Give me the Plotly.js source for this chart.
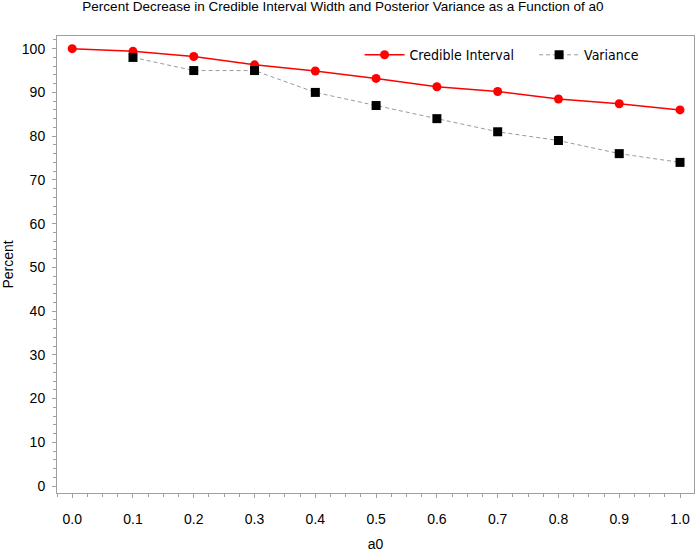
<!DOCTYPE html>
<html>
<head>
<meta charset="utf-8">
<script src="https://cdn.plot.ly/plotly-3.0.1.min.js"></script>
<style>
  html, body { margin: 0; padding: 0; background: #fff; }
  #chart { width: 696px; height: 552px; }
</style>
</head>
<body>
<div id="chart"></div>
<script>
// values
const a0 = [0.0, 0.1, 0.2, 0.3, 0.4, 0.5, 0.6, 0.7, 0.8, 0.9, 1.0];
const credible = [100, 99.4, 98.2, 96.3, 94.9, 93.2, 91.3, 90.2, 88.5, 87.4, 86.0];
const a0Var = [0.1, 0.2, 0.3, 0.4, 0.5, 0.6, 0.7, 0.8, 0.9, 1.0];
const variance = [98, 95, 95, 90, 87, 84, 81, 79, 76, 74];
const xTickVals = [0.0, 0.1, 0.2, 0.3, 0.4, 0.5, 0.6, 0.7, 0.8, 0.9, 1.0];
const xTickText = ['0.0', '0.1', '0.2', '0.3', '0.4', '0.5', '0.6', '0.7', '0.8', '0.9', '1.0'];

const axisGrey = '#a0a0a0';
const tickFont = { family: 'Liberation Sans, Arial, sans-serif', size: 14, color: '#000' };
const legendFont = { family: 'DejaVu Sans Condensed, DejaVu Sans, sans-serif', size: 14, color: '#000' };

const traces = [
    {
        x: a0, y: credible,
        name: 'Credible Interval',
        type: 'scatter', mode: 'lines+markers',
        line: { color: '#ff0000', width: 1.5 },
        marker: { symbol: 'circle', size: 9, color: '#ff0000' },
        legend: 'legend'
    },
    {
        x: a0Var, y: variance,
        name: 'Variance',
        type: 'scatter', mode: 'lines+markers',
        line: { color: '#9a9a9a', width: 1, dash: '4px,3px' },
        marker: { symbol: 'square', size: 9, color: '#000' },
        legend: 'legend2'
    }
];

const layout = {
    width: 696, height: 552,
    margin: { l: 57, r: 2, t: 36, b: 59 },
    paper_bgcolor: '#fff', plot_bgcolor: '#fff',
    title: {
        text: 'Percent Decrease in Credible Interval Width and Posterior Variance as a Function of a0',
        font: { family: 'Liberation Sans, Arial, sans-serif', size: 13.5, color: '#000' },
        x: 0.449, xanchor: 'center', xref: 'paper',
        y: 0.988, yanchor: 'middle', yref: 'container'
    },
    showlegend: true,
    legend: {
        orientation: 'h',
        x: 0.475, xanchor: 'left',
        y: 0.958, yanchor: 'middle',
        font: legendFont,
        bgcolor: 'rgba(0,0,0,0)',
        itemwidth: 40
    },
    legend2: {
        orientation: 'h',
        x: 0.749, xanchor: 'left',
        y: 0.958, yanchor: 'middle',
        font: legendFont,
        bgcolor: 'rgba(0,0,0,0)',
        itemwidth: 40
    },
    xaxis: {
        range: [-0.025, 1.023],
        tickvals: xTickVals, ticktext: xTickText,
        ticks: 'outside', ticklen: 4, tickcolor: axisGrey,
        minor: { dtick: 0.025, ticks: 'outside', ticklen: 3, tickcolor: axisGrey, showgrid: false },
        ticklabelstandoff: 9,
        tickfont: tickFont,
        showline: true, linecolor: axisGrey, linewidth: 1, mirror: true,
        showgrid: false, zeroline: false,
        title: { text: 'a0', font: tickFont, standoff: 18 }
    },
    yaxis: {
        range: [-1.6, 102.9],
        tickmode: 'linear', tick0: 0, dtick: 10,
        ticks: 'outside', ticklen: 4, tickcolor: axisGrey,
        minor: { dtick: 2, ticks: 'outside', ticklen: 3, tickcolor: axisGrey, showgrid: false },
        ticklabelstandoff: 4,
        tickfont: tickFont,
        showline: true, linecolor: axisGrey, linewidth: 1, mirror: true,
        showgrid: false, zeroline: false,
        title: { text: 'Percent', font: tickFont, standoff: 16 }
    }
};

Plotly.newPlot('chart', traces, layout, { displayModeBar: false, staticPlot: true });
</script>
</body>
</html>
